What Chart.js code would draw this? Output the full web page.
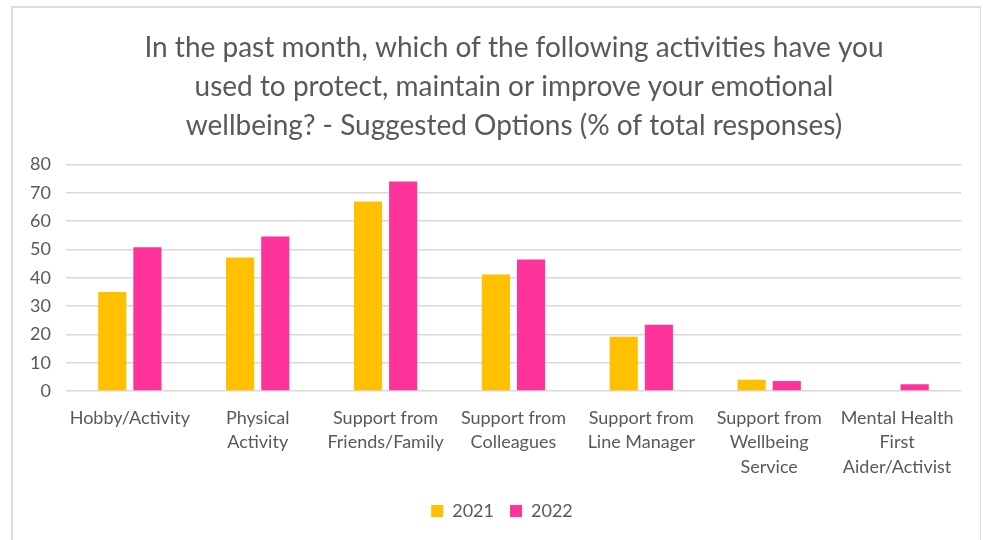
<!DOCTYPE html>
<html>
<head>
<meta charset="utf-8">
<script src="https://cdn.jsdelivr.net/npm/chart.js@4"></script>
<style>
  html, body { margin: 0; padding: 0; background: #fff; }
  #wrap { position: relative; width: 983px; height: 540px; }
  #frame {
    position: absolute; left: 11px; top: 6px; right: 2px; bottom: -4px;
    border: 2px solid #dcdcdc; border-right-width: 1px; pointer-events: none;
  }
  canvas { position: absolute; left: 0; top: 0; }
</style>
</head>
<body>
<div id="wrap">
  <canvas id="myChart" width="983" height="540"></canvas>
  <div id="frame"></div>
</div>
<script>
// categories and values (% of total responses)
const categories = [
  'Hobby/Activity',
  ['Physical', 'Activity'],
  ['Support from', 'Friends/Family'],
  ['Support from', 'Colleagues'],
  ['Support from', 'Line Manager'],
  ['Support from', 'Wellbeing', 'Service'],
  ['Mental Health', 'First', 'Aider/Activist']
];
const values2021 = [35, 47.2, 67, 41.2, 19.2, 4, 0];
const values2022 = [50.8, 54.6, 74, 46.5, 23.4, 3.6, 2.4];
const yTicks = [0, 10, 20, 30, 40, 50, 60, 70, 80];

const grey = '#595959';
const font = 'Lato, "Open Sans", sans-serif';

// nudge title and legend to the right so they sit over the whole frame
const blockShift = {
  id: 'blockShift',
  afterLayout(chart) {
    const t = chart.titleBlock;
    if (t) { t.left += 26; t.right += 26; }
    const l = chart.legend;
    if (l) { l.left += 14; l.right += 14; }
  }
};

var chartArea = document.getElementById('myChart').getContext('2d');

var myChart = new Chart(chartArea, {
  type: 'bar',
  data: {
    labels: categories,
    datasets: [
      {
        label: '2021',
        data: values2021,
        backgroundColor: '#ffc000',
        categoryPercentage: 0.55,
        barPercentage: 0.8
      },
      {
        label: '2022',
        data: values2022,
        backgroundColor: '#ff3399',
        categoryPercentage: 0.55,
        barPercentage: 0.8
      }
    ]
  },
  plugins: [blockShift],
  options: {
    responsive: false,
    animation: false,
    layout: { padding: { left: 15, right: 22, top: 0, bottom: 10 } },
    plugins: {
      title: {
        display: true,
        text: [
          'In the past month, which of the following activities have you',
          'used to protect, maintain or improve your emotional',
          'wellbeing? - Suggested Options (% of total responses)'
        ],
        color: grey,
        font: { family: font, size: 28, weight: 'normal', lineHeight: 1.4 },
        padding: { top: 28, bottom: 19 }
      },
      legend: {
        position: 'bottom',
        labels: {
          color: grey,
          font: { family: font, size: 18 },
          boxWidth: 12,
          boxHeight: 12,
          padding: 16
        }
      },
      tooltip: { enabled: false }
    },
    scales: {
      x: {
        grid: { display: false },
        border: { display: false },
        ticks: {
          color: grey,
          font: { family: font, size: 18, lineHeight: 1.35 },
          maxRotation: 0,
          autoSkip: false,
          padding: 7
        }
      },
      y: {
        min: 0,
        max: 80,
        afterBuildTicks: function (axis) {
          axis.ticks = yTicks.map(v => ({ value: v }));
        },
        grid: { color: '#d9d9d9', lineWidth: 1.5, drawTicks: false },
        border: { display: false },
        ticks: {
          color: grey,
          font: { family: font, size: 18 },
          padding: 15
        }
      }
    }
  }
});
</script>
</body>
</html>
